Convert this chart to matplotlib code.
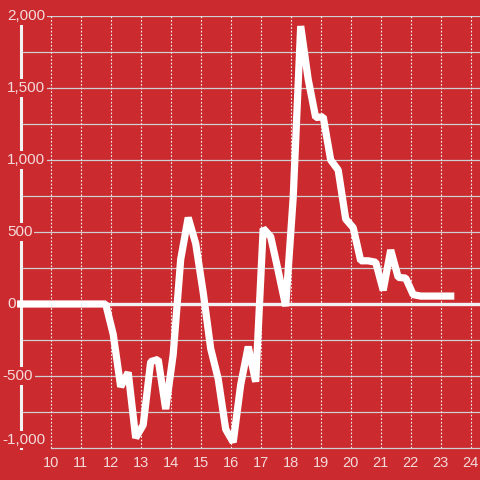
import matplotlib
matplotlib.use("Agg")
import matplotlib.pyplot as plt

# clock times of the samples and the readings at those times
times = ["9:00", "11:50", "12:05", "12:20", "12:35", "12:50", "13:05", "13:20",
         "13:35", "13:50", "14:05", "14:20", "14:35", "14:50", "15:05", "15:20",
         "15:35", "15:50", "16:05", "16:20", "16:35", "16:50", "17:05", "17:20",
         "17:35", "17:50", "18:05", "18:20", "18:35", "18:50", "19:05", "19:20",
         "19:35", "19:50", "20:05", "20:20", "20:35", "20:50", "21:05", "21:20",
         "21:35", "21:50", "22:05", "22:20", "22:35", "22:50", "23:05", "23:20"]
values = [0, 0, -210, -575, -475, -930, -840, -400,
          -385, -730, -350, 310, 600, 420, 80, -310,
          -520, -870, -960, -560, -296, -540, 525, 467,
          230, -15, 740, 1930, 1560, 1295, 1300, 1000,
          930, 590, 530, 300, 300, 290, 95, 375,
          185, 180, 65, 55, 55, 55, 55, 55]

x_ticks = list(range(10, 25))
y_labels = [2000, 1500, 1000, 500, 0, -500, -1000]
grid_levels = list(range(-750, 2001, 250))

hours = [int(t.split(":")[0]) + int(t.split(":")[1]) / 60 for t in times]

bg = "#cb2a2f"
txt = "#f4dada"
font = "Liberation Sans"

fig = plt.figure(figsize=(4.8, 4.8), dpi=100)
fig.patch.set_facecolor(bg)
ax = fig.add_axes([21 / 480, 32 / 480, 459 / 480, 432 / 480])
ax.set_facecolor(bg)
ax.set_xlim(9.01, 24.31)
ax.set_ylim(-1000, 2000)

# solid horizontal grid
for g in grid_levels:
    ax.axhline(g, color="#cfcfcf", lw=0.9, zorder=1)
# dotted vertical grid at every hour
for xt in x_ticks:
    ax.axvline(xt, color="#ececec", lw=0.8, ls=(0, (1.6, 1.6)), zorder=1)

# zero line
ax.axhline(0, color="#f2f2f2", lw=2.4, zorder=2)

for s in ["top", "right"]:
    ax.spines[s].set_visible(False)
ax.spines["left"].set_color("#f2f2f2")
ax.spines["left"].set_linewidth(2.2)
ax.spines["left"].set_zorder(2)
ax.spines["bottom"].set_color("#cfcfcf")
ax.spines["bottom"].set_linewidth(0.9)
ax.spines["bottom"].set_bounds(10, 24.31)

ax.plot(hours, values, color="white", lw=5.2, solid_joinstyle="bevel",
        solid_capstyle="projecting", clip_on=False, zorder=5)

ax.set_xticks(x_ticks)
ax.set_xticklabels([str(v) for v in x_ticks], fontsize=10.5, color=txt, family=font)
ax.tick_params(axis="x", length=0, pad=6)
ax.set_yticks([])

# y labels sit inside the plot on a red box, minus sign hangs to the left
trans = ax.get_yaxis_transform()
for v in y_labels:
    xpos = (2.5 - 21) / 459 if v < 0 else (7 - 21) / 459
    va = "bottom" if v == -1000 else "center"
    yv = v + 10 if v == -1000 else v
    ax.text(xpos, yv, f"{v:,}", transform=trans, ha="left", va=va,
            fontsize=11, color=txt, family=font, zorder=3, clip_on=False,
            bbox=dict(boxstyle="square,pad=0.12", fc=bg, ec="none"))

fig.savefig("out.png", dpi=100, facecolor=bg)
